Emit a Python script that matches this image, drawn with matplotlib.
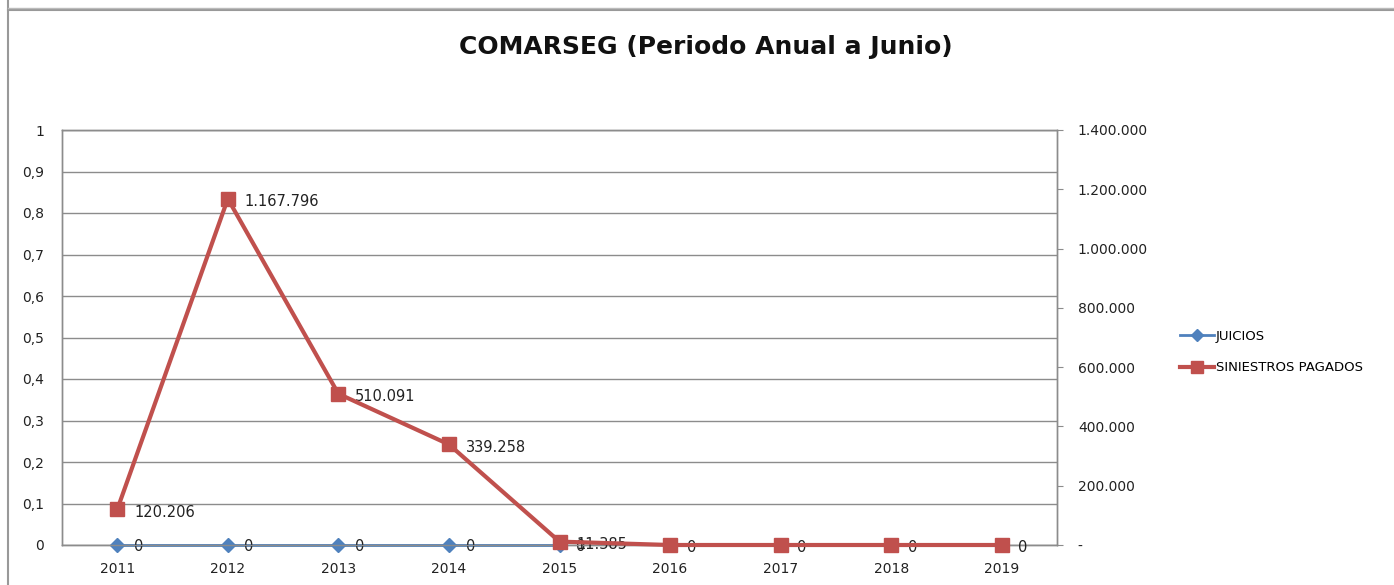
import matplotlib.pyplot as plt
from matplotlib.lines import Line2D
from matplotlib.ticker import FixedLocator, FuncFormatter

years = ["2011", "2012", "2013", "2014", "2015", "2016", "2017", "2018", "2019"]
juicios = [0, 0, 0, 0, 0, None, None, None, None]
siniestros = [120206, 1167796, 510091, 339258, 11385, 0, 0, 0, 0]

blue = "#4F81BD"
red = "#C0504D"
grid_c = "#8c8c8c"


def miles(v):
    s = f"{int(round(v)):,}".replace(",", ".")
    return s


fig = plt.figure(figsize=(13.94, 5.85), dpi=100)
ax = fig.add_axes([62 / 1394, 1 - 545 / 585, 995 / 1394, 415 / 585])
ax2 = ax.twinx()

x = list(range(len(years)))

# left axis: JUICIOS
ax.set_xlim(-0.5, len(years) - 0.5)
ax.set_ylim(0, 1)
ax.yaxis.set_major_locator(FixedLocator([i / 10 for i in range(11)]))
ax.yaxis.set_major_formatter(FuncFormatter(lambda v, p: "0" if v == 0 else ("1" if v == 1 else f"{v:.1f}".replace(".", ","))))
ax.grid(axis="y", color=grid_c, lw=1)
ax.set_axisbelow(True)
ax.set_xticks(x)
ax.set_xticklabels(years)

jx = [i for i, v in enumerate(juicios) if v is not None]
jy = [v for v in juicios if v is not None]
ax.plot(jx, jy, color=blue, lw=2, marker="D", ms=7, zorder=3, clip_on=False)
for i, v in zip(jx, jy):
    ax.annotate(str(v), (i, v), xytext=(12, -1), textcoords="offset points",
                ha="left", va="center", fontsize=10.5, color="#222222", annotation_clip=False)

# right axis: SINIESTROS PAGADOS
ax2.set_ylim(0, 1400000)
ax2.yaxis.set_major_locator(FixedLocator(range(0, 1400001, 200000)))
ax2.yaxis.set_major_formatter(FuncFormatter(lambda v, p: "-" if v == 0 else miles(v)))
ax2.plot(x, siniestros, color=red, lw=3, marker="s", ms=10, zorder=4, clip_on=False)
for i, v in zip(x, siniestros):
    ax2.annotate(miles(v) if v else "0", (i, v), xytext=(12, -2), textcoords="offset points",
                 ha="left", va="center", fontsize=10.5, color="#222222", annotation_clip=False)

for a in (ax, ax2):
    for s in a.spines.values():
        s.set_color(grid_c)
        s.set_linewidth(1)
    a.tick_params(axis="both", labelsize=10, colors="#222222", length=4, color=grid_c)
ax.tick_params(axis="x", length=0, pad=12)
ax.tick_params(axis="y", length=0, pad=13)
ax2.tick_params(axis="y", length=4, pad=11)

fig.text(706 / 1394, 1 - 47 / 585, "COMARSEG (Periodo Anual a Junio)", ha="center", va="center",
         fontsize=18, fontweight="bold", color="#111111")

handles = [Line2D([], [], color=blue, lw=2, marker="D", ms=6),
           Line2D([], [], color=red, lw=3, marker="s", ms=8)]
fig.legend(handles, ["JUICIOS", "SINIESTROS PAGADOS"], loc="upper left",
           bbox_to_anchor=(1168 / 1394, 1 - 318 / 585), frameon=False, fontsize=9.5,
           handlelength=2.6, handletextpad=0.1, labelspacing=1.4)

# outer chart border
fig.add_artist(Line2D([8 / 1394, 8 / 1394], [0, 1], transform=fig.transFigure, color="#999999", lw=1.5))
fig.add_artist(Line2D([8 / 1394, 1], [1 - 10 / 585, 1 - 10 / 585], transform=fig.transFigure, color="#999999", lw=1.5))
fig.add_artist(Line2D([8 / 1394, 1], [1 - 8 / 585, 1 - 8 / 585], transform=fig.transFigure, color="#bbbbbb", lw=1))

fig.savefig("out.png", dpi=100)
